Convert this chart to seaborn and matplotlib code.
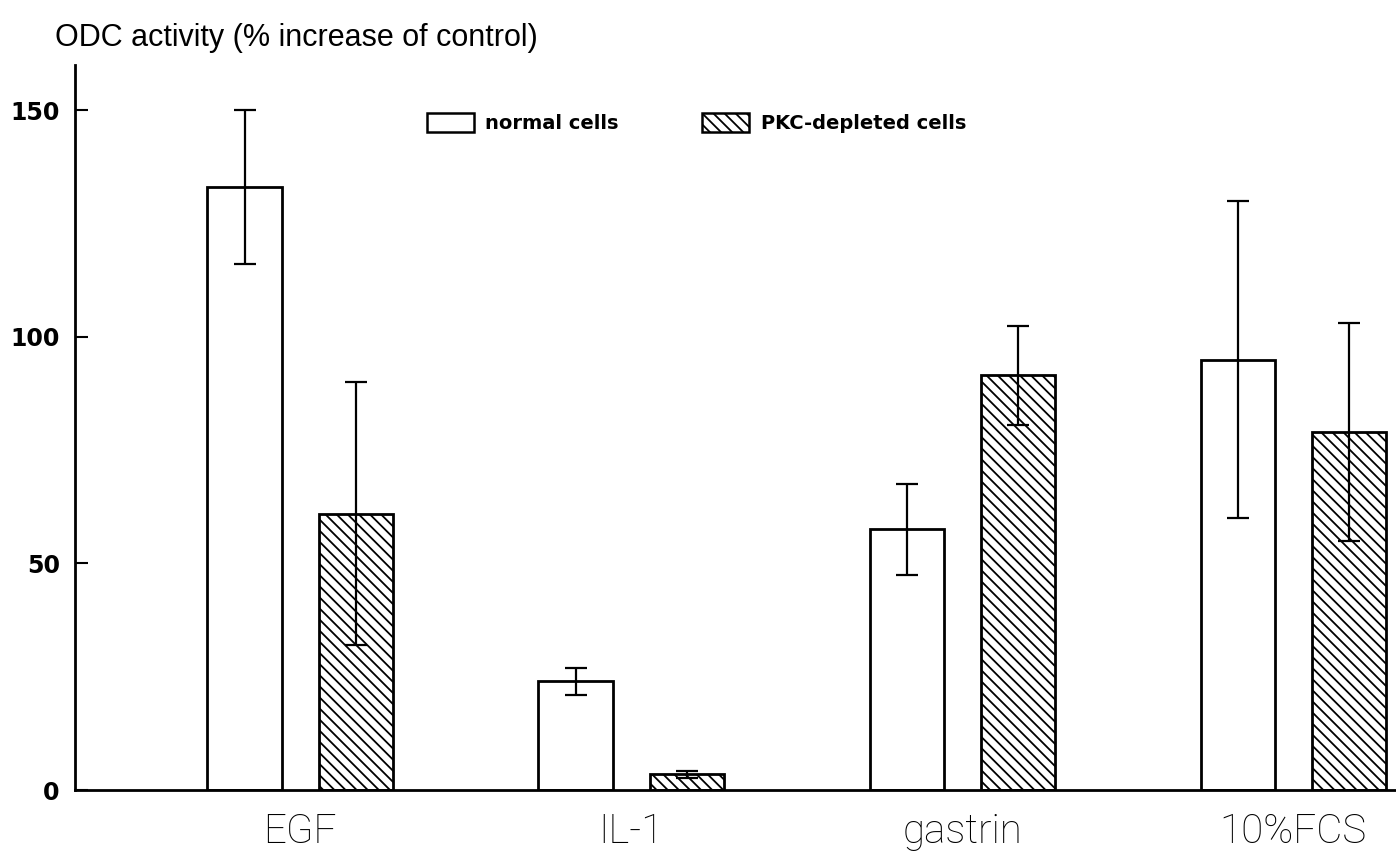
import matplotlib
matplotlib.use('Agg')
import matplotlib.pyplot as plt
from matplotlib.patches import Patch
import seaborn as sns
import pandas as pd

# values
stimuli = ['EGF', 'IL-1', 'gastrin', '10%FCS']
cell_types = ['normal cells', 'PKC-depleted cells']
normal_mean = [133, 24, 57.5, 95]
normal_err = [17, 3, 10, 35]
pkc_mean = [61, 3.5, 91.5, 79]
pkc_err = [29, 0.8, 11, 24]
yticks = [0, 50, 100, 150]

df = pd.DataFrame({
    'stimulus': stimuli * 2,
    'cells': [cell_types[0]] * len(stimuli) + [cell_types[1]] * len(stimuli),
    'odc': normal_mean + pkc_mean,
    'err': normal_err + pkc_err,
})

sns.set_style('ticks', {'axes.edgecolor': 'black', 'text.color': 'black',
                        'xtick.color': 'black', 'ytick.color': 'black'})
plt.rcParams['font.family'] = ['DejaVu Sans']
plt.rcParams['hatch.linewidth'] = 1.3
plt.rcParams['hatch.color'] = 'black'

fig = plt.figure(figsize=(13.96, 8.51), dpi=100)
ax = fig.add_axes([75 / 1396, 61 / 851, 1 - 75 / 1396, (790 - 65) / 851])

sns.barplot(data=df, x='stimulus', y='odc', hue='cells', order=stimuli,
            hue_order=cell_types, palette=['white', 'white'], saturation=1,
            edgecolor='black', linewidth=2, width=0.672, gap=0.333,
            errorbar=None, legend=False, ax=ax)

# error bars + hatch for the PKC-depleted bars
hatch = '\\\\\\'
for container, ctype in zip(ax.containers, cell_types):
    sub = df[df['cells'] == ctype].set_index('stimulus').loc[stimuli]
    xs = [bar.get_x() + bar.get_width() / 2 for bar in container]
    ax.errorbar(xs, sub['odc'], yerr=sub['err'], fmt='none', ecolor='black',
                elinewidth=1.6, capsize=8, capthick=1.6, zorder=5)
    if ctype == cell_types[1]:
        for bar in container:
            bar.set_hatch(hatch)

ax.set_xlim(-0.68, 3.31)
ax.set_ylim(0, 160)
ax.set_yticks(yticks)
ax.set_xlabel('')
ax.set_ylabel('')
sns.despine(ax=ax)
for side in ['left', 'bottom']:
    ax.spines[side].set_linewidth(2)
    ax.spines[side].set_color('black')

ax.tick_params(axis='y', direction='in', length=9, width=1.5, pad=11,
               colors='black')
ax.tick_params(axis='x', length=0, pad=16, colors='black')
for lab in ax.get_yticklabels():
    lab.set_fontweight('bold')
    lab.set_fontsize(17)
for lab in ax.get_xticklabels():
    lab.set_family(['Roboto', 'DejaVu Sans'])
    lab.set_fontweight('light')
    lab.set_fontsize(29)
    lab.set_color('black')

# legend
handles = [Patch(facecolor='white', edgecolor='black', linewidth=1.8),
           Patch(facecolor='white', edgecolor='black', linewidth=1.8, hatch=hatch)]
fig.legend(handles, cell_types, loc='center left',
           bbox_to_anchor=(427 / 1396, 1 - 123 / 851), frameon=False, ncol=2,
           prop={'weight': 'bold', 'size': 14}, handlelength=2.4, handleheight=1.1,
           handletextpad=0.6, columnspacing=4.3, borderpad=0, borderaxespad=0,
           labelcolor='black')

fig.text(55 / 1396, 1 - 38 / 851, 'ODC activity (% increase of control)',
         fontsize=22, family=['Liberation Sans', 'DejaVu Sans'], va='center',
         color='black')

fig.savefig('out.png', dpi=100)
